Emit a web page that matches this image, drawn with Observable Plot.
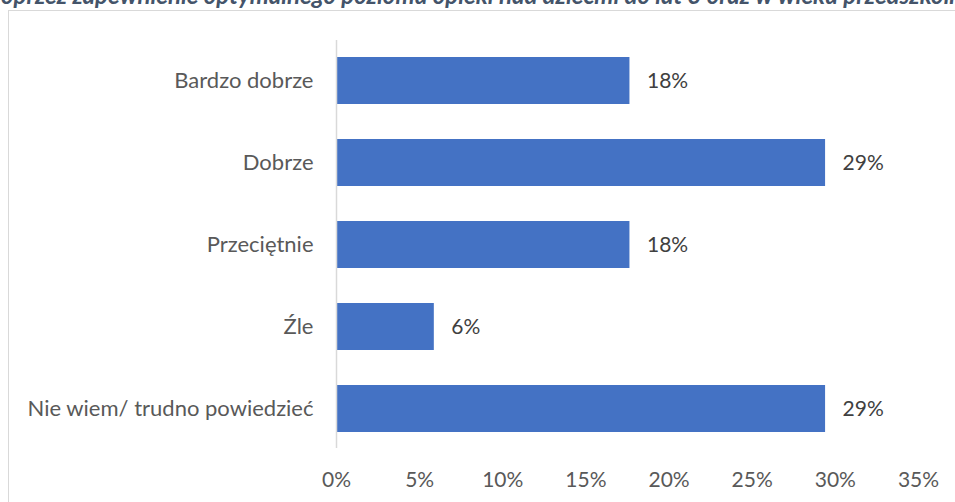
<!DOCTYPE html>
<html>
<head>
<meta charset="utf-8">
<script src="https://cdn.jsdelivr.net/npm/d3@7"></script>
<script src="https://cdn.jsdelivr.net/npm/@observablehq/plot@0.6"></script>
<style>
  html, body { margin: 0; padding: 0; background: #fff; }
  #wrap { position: relative; width: 955px; height: 502px; overflow: hidden; font-family: Lato, "Open Sans", sans-serif; }
  #title { position: absolute; left: -12px; top: -17px; white-space: nowrap; font-weight: bold; font-style: italic; font-size: 24px; color: #44546A; line-height: 24px; }
  #frameTop { position: absolute; left: 8px; top: 10px; width: 947px; height: 0; border-top: 1.5px solid #d9d9d9; }
  #frameLeft { position: absolute; left: 7.5px; top: 10px; width: 0; height: 492px; border-left: 1.5px solid #d9d9d9; }
  #chart { position: absolute; left: 0; top: 0; }
</style>
</head>
<body>
<div id="wrap">
  <div id="title">poprzez zapewnienie optymalnego poziomu opieki nad dziećmi do lat 3 oraz w wieku przedszkolnym</div>
  <div id="frameTop"></div>
  <div id="frameLeft"></div>
  <div id="chart"></div>
</div>
<script>
const categories = ["Bardzo dobrze", "Dobrze", "Przeciętnie", "Źle", "Nie wiem/ trudno powiedzieć"];
const values = [3/17, 5/17, 3/17, 1/17, 5/17];
const labels = ["18%", "29%", "18%", "6%", "29%"];
const xTicks = [0, 0.05, 0.10, 0.15, 0.20, 0.25, 0.30, 0.35];

const data = categories.map((c, i) => ({category: c, value: values[i], label: labels[i]}));

const plot = Plot.plot({
  width: 955,
  height: 502,
  marginLeft: 336,
  marginRight: 37,
  marginTop: 40,
  marginBottom: 54,
  style: {fontFamily: "Lato, 'Open Sans', sans-serif", background: "transparent"},
  x: {domain: [0, 0.35]},
  y: {domain: categories, paddingInner: 0.43, paddingOuter: 0.2},
  marks: [
    Plot.barX(data, {x: "value", y: "category", fill: "#4472C4"}),
    Plot.ruleX([0], {stroke: "#d9d9d9", strokeWidth: 1.5}),
    Plot.text(data, {x: "value", y: "category", text: "label", textAnchor: "start", dx: 17, fontSize: 21, fill: "#404040"}),
    Plot.axisY({tickSize: 0, tickPadding: 23, fontSize: 22, color: "#595959", label: null}),
    Plot.axisX({ticks: xTicks, tickSize: 0, tickPadding: 24, fontSize: 21, color: "#595959", label: null, tickFormat: d => Math.round(d * 100) + "%"})
  ]
});
document.getElementById("chart").appendChild(plot);
</script>
</body>
</html>
